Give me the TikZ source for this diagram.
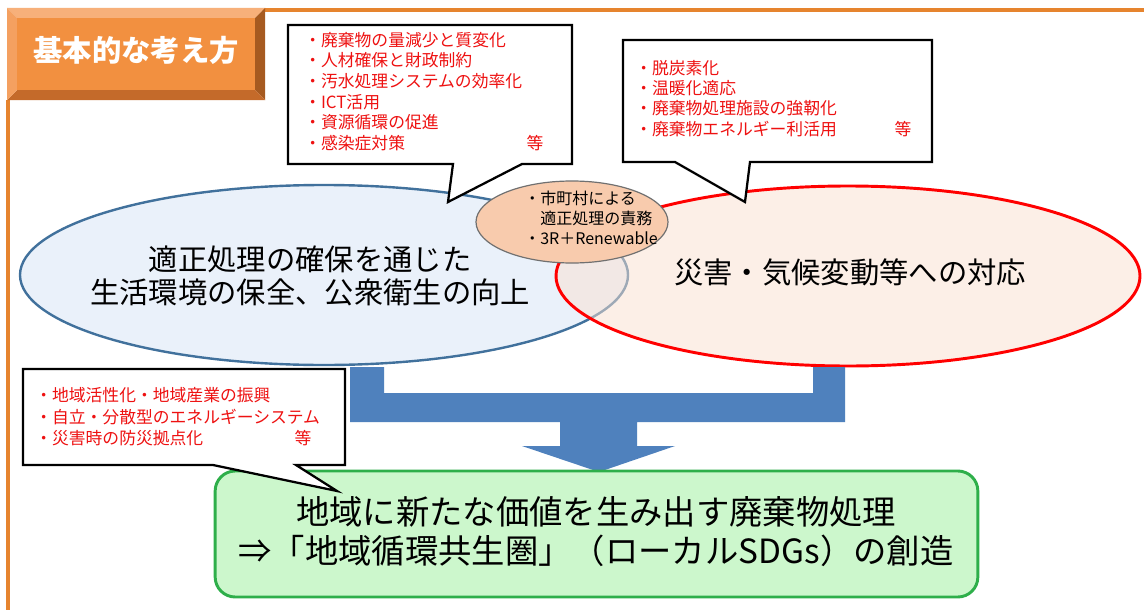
\documentclass[tikz,border=0pt]{standalone}
\usepackage{fontspec}
\setmainfont{Noto Sans CJK JP}
\usetikzlibrary{shapes.geometric}
\definecolor{frameorange}{HTML}{E6842E}
\definecolor{titleface}{HTML}{F29040}
\definecolor{bevtop}{HTML}{F7B07A}
\definecolor{bevleft}{HTML}{F4A060}
\definecolor{bevright}{HTML}{A65A20}
\definecolor{bevbot}{HTML}{C46A2A}
\definecolor{bluefill}{HTML}{EAF1FA}
\definecolor{blueline}{HTML}{41719C}
\definecolor{redfill}{HTML}{FBE1D1}
\definecolor{orgfill}{HTML}{F8CBAD}
\definecolor{orgline}{HTML}{707070}
\definecolor{arrowblue}{HTML}{4F81BD}
\definecolor{greenfill}{HTML}{CCF7CC}
\definecolor{greenline}{HTML}{2EAF4A}
\definecolor{txtred}{HTML}{EE1111}
\begin{document}
\begin{tikzpicture}[x=0.75pt,y=-0.75pt,
  bubble/.style={draw=black,line width=1.7pt,fill=white,line join=miter},
  bultext/.style={text=txtred,align=left,anchor=west,inner sep=0pt},
  bigtext/.style={text=black,align=center,inner sep=0pt,font=\fontsize{22}{24.75}\selectfont},
  ell/.style={ellipse,inner sep=0pt},
  framerule/.style={frameorange,line width=2.8pt}
]
\useasboundingbox (0,0) rectangle (1144,610);
\fill[white] (0,0) rectangle (1144,610);

% frame
\draw[framerule] (262,10) -- (1144,10);
\draw[framerule] (8,100) -- (8,610);

% title bevel box
\fill[bevtop] (7,8) -- (265,8) -- (255,18) -- (17,18) -- cycle;
\fill[bevright] (265,8) -- (265,100) -- (255,90) -- (255,18) -- cycle;
\fill[bevbot] (265,100) -- (7,100) -- (17,90) -- (255,90) -- cycle;
\fill[bevleft] (7,100) -- (7,8) -- (17,18) -- (17,90) -- cycle;
\fill[titleface] (17,18) rectangle (255,90);
\node[text=white,font=\fontsize{22}{26}\selectfont\bfseries,inner sep=0pt] (title) at (136,50) {基本的な考え方};

% ellipses
\node[ell,draw=blueline,line width=1.8pt,fill=bluefill,minimum width=456pt,minimum height=135pt] (blueell) at (324,275) {};
\node[ell,draw=red,line width=2.2pt,fill=redfill,fill opacity=0.5,minimum width=438pt,minimum height=135pt] (redell) at (848,276) {};
\node[ell,draw=orgline,line width=0.9pt,fill=orgfill,minimum width=144pt,minimum height=61.5pt] (orgell) at (572,222) {};

% bubbles
\draw[bubble] (288,25) -- (572,25) -- (572,164) -- (522,164) -- (448,202) -- (453,164) -- (288,164) -- cycle;
\draw[bubble] (623,40) -- (932,40) -- (932,162) -- (750,162) -- (745,202) -- (675,162) -- (623,162) -- cycle;

% blue arrow
\fill[arrowblue] (350,367) -- (384,367) -- (384,393) -- (813,393) -- (813,367) -- (845,367) -- (845,422) -- (637,422) -- (637,446) -- (675,446) -- (599,472) -- (522,446) -- (560,446) -- (560,422) -- (350,422) -- cycle;

% green box
\node[draw=greenline,line width=2.2pt,fill=greenfill,rounded corners=15pt,minimum width=572pt,minimum height=94.5pt,inner sep=0pt] (greenbox) at (596.5,534) {};

% bubble 3
\draw[bubble] (23,369) -- (345,369) -- (345,465) -- (296,465) -- (337,491) -- (213,465) -- (23,465) -- cycle;

% bubble texts
\node[bultext,font=\fontsize{12.6}{15.45}\selectfont] (b1text) at (304,91.5) {・廃棄物の量減少と質変化\\・人材確保と財政制約\\・汚水処理システムの効率化\\・ICT活用\\・資源循環の促進\\・感染症対策};
\node[text=txtred,font=\fontsize{12.6}{15}\selectfont,inner sep=0pt] (b1etc) at (535,143) {等};
\node[bultext,font=\fontsize{12.6}{15.2}\selectfont] (b2text) at (635,98.5) {・脱炭素化\\・温暖化適応\\・廃棄物処理施設の強靭化\\・廃棄物エネルギー利活用};
\node[text=txtred,font=\fontsize{12.6}{15}\selectfont,inner sep=0pt] (b2etc) at (903,129) {等};
\node[bultext,font=\fontsize{12.6}{16.1}\selectfont] (b3text) at (35,417) {・地域活性化・地域産業の振興\\・自立・分散型のエネルギーシステム\\・災害時の防災拠点化};
\node[text=txtred,font=\fontsize{12.6}{15}\selectfont,inner sep=0pt] (b3etc) at (303,438) {等};

% ellipse texts
\node[text=black,align=left,anchor=west,inner sep=0pt,font=\fontsize{12}{15}\selectfont] (orgtext) at (524,218) {・市町村による\\　適正処理の責務\\・3R＋Renewable};
\node[bigtext] (bluetext) at (310,276) {適正処理の確保を通じた\\生活環境の保全、公衆衛生の向上};
\node[bigtext] (redtext) at (850,272) {災害・気候変動等への対応};

% green text
\node[text=black,align=center,inner sep=0pt,font=\fontsize{25}{29.25}\selectfont] (greentext) at (596,532) {地域に新たな価値を生み出す廃棄物処理\\⇒「地域循環共生圏」（ローカルSDGs）の創造};
\end{tikzpicture}
\end{document}
